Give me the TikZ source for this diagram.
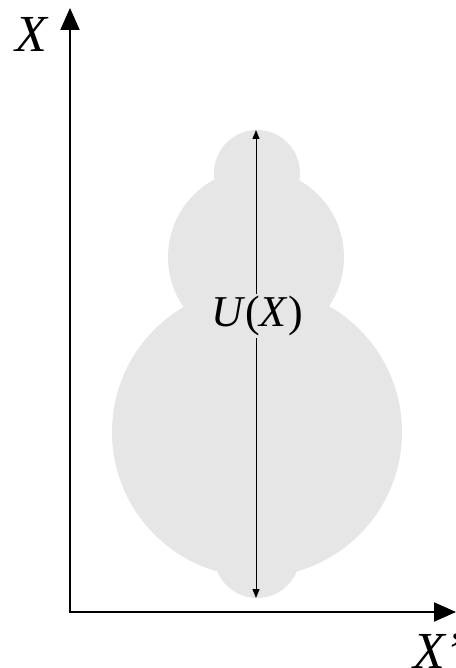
\documentclass[tikz,border=0pt]{standalone}
\usepackage{fontspec}
\setmainfont{Liberation Serif}
\usetikzlibrary{arrows.meta}
\definecolor{shapegray}{HTML}{E6E6E6}
\tikzset{
  axis/.style={line width=2pt,-{Triangle[length=22pt,width=19pt]}},
  measure/.style={line width=0.9pt,{Triangle[length=9pt,width=7pt]}-{Triangle[length=9pt,width=7pt]}},
  biglabel/.style={font=\fontsize{52}{54}\selectfont\itshape,inner sep=0pt},
  ulabel/.style={font=\fontsize{44}{46}\selectfont,fill=shapegray,inner sep=2pt}
}
\begin{document}
\begin{tikzpicture}[x=1pt,y=-1pt]
\useasboundingbox (0,0) rectangle (455,668);
\fill[shapegray] (257,173) circle (43) (256,257) circle (88) (257,432) circle (145) (257,555) circle (43);
\coordinate (O) at (70,612);
\coordinate (ytip) at (70,8);
\coordinate (xtip) at (456,612);
\draw[axis] (O) -- (ytip);
\draw[axis] ([xshift=-1pt]O) -- (xtip);
\coordinate (mtop) at (256,130);
\coordinate (mbot) at (256,598);
\draw[measure] (mbot) -- (mtop);
\node[ulabel] (u) at (257,316) {\textit{U}(\textit{X})};
\node[biglabel] (xl) at (31,34) {X};
\node[biglabel,anchor=base west] (xpl) at (413,668) {X'};
\end{tikzpicture}
\end{document}
